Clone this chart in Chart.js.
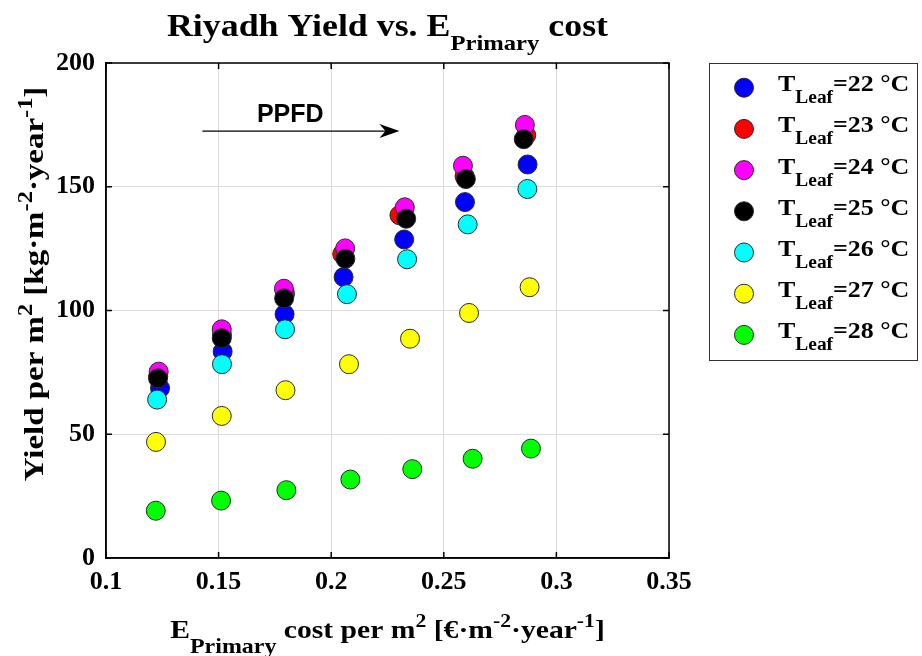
<!DOCTYPE html>
<html>
<head>
<meta charset="utf-8">
<title>Riyadh Yield vs. E Primary cost</title>
<script src="https://cdn.jsdelivr.net/npm/chart.js@4/dist/chart.umd.min.js"></script>
<style>
  html, body { margin: 0; padding: 0; background: #ffffff; }
  #wrap { width: 922px; height: 656px; }
</style>
</head>
<body>
<div id="wrap"><canvas id="chart" width="922" height="656"></canvas></div>
<script>
// Leaf temperatures (°C) and their marker colours
const leafTemps = [22, 23, 24, 25, 26, 27, 28];
const leafColors = ['#0000ff', '#ff0000', '#ff00ff', '#000000', '#00ffff', '#ffff00', '#00ff00'];

// Primary energy cost per m² (€·m⁻²·year⁻¹), one array per leaf temperature
const cost22 = [0.1240, 0.1518, 0.1793, 0.2055, 0.2324, 0.2594, 0.2872];
const cost23 = [0.1232, 0.1515, 0.1795, 0.2049, 0.2303, 0.2592, 0.2866];
const cost24 = [0.1234, 0.1514, 0.1790, 0.2062, 0.2327, 0.2585, 0.2860];
const cost25 = [0.1231, 0.1514, 0.1791, 0.2063, 0.2333, 0.2598, 0.2855];
const cost26 = [0.1227, 0.1515, 0.1795, 0.2070, 0.2337, 0.2606, 0.2871];
const cost27 = [0.1222, 0.1514, 0.1797, 0.2079, 0.2350, 0.2612, 0.2881];
const cost28 = [0.1221, 0.1511, 0.1801, 0.2085, 0.2360, 0.2628, 0.2887];

// Yield per m² (kg·m⁻²·year⁻¹), one array per leaf temperature
const yield22 = [68.6, 83.4, 98.5, 113.5, 128.7, 143.8, 159.0];
const yield23 = [73.4, 90.0, 106.8, 122.8, 138.5, 154.3, 170.8];
const yield24 = [75.3, 92.4, 108.8, 125.1, 141.7, 158.5, 175.0];
const yield25 = [72.6, 88.8, 104.9, 120.9, 137.1, 153.1, 169.2];
const yield26 = [64.0, 78.3, 92.4, 106.6, 120.7, 134.8, 149.1];
const yield27 = [46.9, 57.4, 67.8, 78.3, 88.6, 99.0, 109.4];
const yield28 = [19.1, 23.2, 27.4, 31.7, 35.9, 40.1, 44.2];

// Axis ticks
const xTickValues = [0.1, 0.15, 0.2, 0.25, 0.3, 0.35];
const xTickLabels = ['0.1', '0.15', '0.2', '0.25', '0.3', '0.35'];
const yTickValues = [0, 50, 100, 150, 200];
const yTickLabels = ['0', '50', '100', '150', '200'];

// PPFD arrow (data coordinates)
const ppfdArrowFrom = [0.1428, 172.5];
const ppfdArrowTo = [0.2303, 172.5];
const ppfdLabelAt = [0.1818, 176.0];

const costSeries = [cost22, cost23, cost24, cost25, cost26, cost27, cost28];
const yieldSeries = [yield22, yield23, yield24, yield25, yield26, yield27, yield28];

const SERIF = '"Liberation Serif", "Times New Roman", serif';
const SANS = '"Liberation Sans", Arial, sans-serif';

const datasets = leafTemps.map((t, i) => ({
  label: 'T_Leaf=' + t + ' °C',
  data: costSeries[i].map((c, k) => ({ x: c, y: yieldSeries[i][k] })),
  backgroundColor: leafColors[i],
  borderColor: '#2a2a2a',
  pointRadius: 9.5,
  pointHoverRadius: 9.5,
  pointBorderWidth: 1,
  showLine: false,
  order: -i   // later temperatures are painted on top
}));

// Draws a run of text pieces (normal / sub / superscript) on one baseline
function drawRich(ctx, segs, x, y, align, stretch) {
  const widths = segs.map(s => {
    ctx.font = 'bold ' + s.size + 'px ' + (s.family || SERIF);
    return ctx.measureText(s.t).width;
  });
  const total = widths.reduce((a, b) => a + b, 0) * stretch;
  const startX = align === 'center' ? x - total / 2 : x;
  ctx.save();
  ctx.translate(startX, y);
  ctx.scale(stretch, 1);
  ctx.fillStyle = '#000';
  ctx.textBaseline = 'alphabetic';
  ctx.textAlign = 'left';
  let px = 0;
  segs.forEach((s, i) => {
    ctx.font = 'bold ' + s.size + 'px ' + (s.family || SERIF);
    ctx.fillText(s.t, px, s.dy || 0);
    px += widths[i];
  });
  ctx.restore();
}

const decorations = {
  id: 'decorations',
  afterDraw(chart) {
    const ctx = chart.ctx;
    const a = chart.chartArea;
    const xs = chart.scales.x, ys = chart.scales.y;

    // axes box and inward tick marks
    ctx.save();
    ctx.strokeStyle = '#000';
    ctx.lineWidth = 1.5;
    ctx.strokeRect(a.left, a.top, a.right - a.left, a.bottom - a.top);
    ctx.beginPath();
    xTickValues.forEach(v => {
      const px = xs.getPixelForValue(v);
      ctx.moveTo(px, a.bottom); ctx.lineTo(px, a.bottom - 6);
      ctx.moveTo(px, a.top); ctx.lineTo(px, a.top + 6);
    });
    yTickValues.forEach(v => {
      const py = ys.getPixelForValue(v);
      ctx.moveTo(a.left, py); ctx.lineTo(a.left + 6, py);
      ctx.moveTo(a.right, py); ctx.lineTo(a.right - 6, py);
    });
    ctx.stroke();
    ctx.restore();

    // title
    drawRich(ctx, [
      { t: 'Riyadh Yield vs. E', size: 32 },
      { t: 'Primary', size: 22, dy: 14 },
      { t: ' cost', size: 32 }
    ], (a.left + a.right) / 2, 36, 'center', 1.12);

    // x axis title
    drawRich(ctx, [
      { t: 'E', size: 26 },
      { t: 'Primary', size: 21, dy: 15 },
      { t: ' cost per m', size: 26 },
      { t: '2', size: 19, dy: -11 },
      { t: ' [€·m', size: 26 },
      { t: '-2', size: 19, dy: -11 },
      { t: '·year', size: 26 },
      { t: '-1', size: 19, dy: -11 },
      { t: ']', size: 26 }
    ], (a.left + a.right) / 2, 638, 'center', 1.14);

    // y axis title
    ctx.save();
    ctx.translate(43, 284);
    ctx.rotate(-Math.PI / 2);
    drawRich(ctx, [
      { t: 'Yield per m', size: 27 },
      { t: '2', size: 20, dy: -11 },
      { t: ' [kg·m', size: 27 },
      { t: '-2', size: 20, dy: -11 },
      { t: '·year', size: 27 },
      { t: '-1', size: 20, dy: -11 },
      { t: ']', size: 27 }
    ], 0, 0, 'center', 1.22);
    ctx.restore();

    // PPFD arrow
    const x0 = xs.getPixelForValue(ppfdArrowFrom[0]);
    const y0 = ys.getPixelForValue(ppfdArrowFrom[1]);
    const x1 = xs.getPixelForValue(ppfdArrowTo[0]);
    const y1 = ys.getPixelForValue(ppfdArrowTo[1]);
    ctx.save();
    ctx.strokeStyle = '#000';
    ctx.fillStyle = '#000';
    ctx.lineWidth = 1.2;
    ctx.beginPath();
    ctx.moveTo(x0, y0); ctx.lineTo(x1 - 12, y1);
    ctx.stroke();
    ctx.beginPath();
    ctx.moveTo(x1, y1);
    ctx.lineTo(x1 - 20, y1 - 7);
    ctx.lineTo(x1 - 14, y1);
    ctx.lineTo(x1 - 20, y1 + 7);
    ctx.closePath();
    ctx.fill();
    ctx.restore();

    ctx.save();
    ctx.font = 'bold 25px ' + SANS;
    ctx.fillStyle = '#000';
    ctx.textAlign = 'center';
    ctx.textBaseline = 'alphabetic';
    ctx.fillText('PPFD', xs.getPixelForValue(ppfdLabelAt[0]), ys.getPixelForValue(ppfdLabelAt[1]));
    ctx.restore();

    // legend
    const boxL = 709, boxT = 63, boxR = 917, boxB = 360;
    ctx.save();
    ctx.fillStyle = '#fff';
    ctx.fillRect(boxL, boxT, boxR - boxL, boxB - boxT);
    ctx.strokeStyle = '#333';
    ctx.lineWidth = 1;
    ctx.strokeRect(boxL + 0.5, boxT + 0.5, boxR - boxL, boxB - boxT);
    ctx.restore();
    leafTemps.forEach((t, i) => {
      const cy = 87.7 + i * 41.2;
      ctx.save();
      ctx.beginPath();
      ctx.arc(744, cy, 9.5, 0, Math.PI * 2);
      ctx.fillStyle = leafColors[i];
      ctx.fill();
      ctx.strokeStyle = '#2a2a2a';
      ctx.lineWidth = 1;
      ctx.stroke();
      ctx.restore();
      drawRich(ctx, [
        { t: 'T', size: 24 },
        { t: 'Leaf', size: 18, dy: 12 },
        { t: '=' + t + ' °C', size: 24 }
      ], 778, cy + 3.5, 'left', 1.08);
    });
  }
};

new Chart(document.getElementById('chart'), {
  type: 'scatter',
  data: { datasets },
  options: {
    responsive: false,
    animation: false,
    devicePixelRatio: 1,
    layout: { padding: { left: 0, right: 253, top: 63, bottom: 0 } },
    plugins: {
      legend: { display: false },
      title: { display: false },
      tooltip: { enabled: false }
    },
    scales: {
      x: {
        type: 'linear',
        min: 0.1,
        max: 0.35,
        afterBuildTicks(scale) { scale.ticks = xTickValues.map(v => ({ value: v })); },
        afterFit(scale) { scale.height = 98; },
        ticks: {
          callback: (v, i) => xTickLabels[i],
          font: { family: SERIF, weight: 'bold', size: 26 },
          color: '#000',
          padding: 9,
          maxRotation: 0,
          autoSkip: false
        },
        grid: { color: '#dcdcdc', lineWidth: 1, drawTicks: false },
        border: { display: true, color: '#000', width: 1.5 }
      },
      y: {
        type: 'linear',
        min: 0,
        max: 200,
        afterBuildTicks(scale) { scale.ticks = yTickValues.map(v => ({ value: v })); },
        afterFit(scale) { scale.width = 106; },
        ticks: {
          callback: (v, i) => yTickLabels[i],
          font: { family: SERIF, weight: 'bold', size: 26 },
          color: '#000',
          padding: 11,
          autoSkip: false
        },
        grid: { color: '#dcdcdc', lineWidth: 1, drawTicks: false },
        border: { display: true, color: '#000', width: 1.5 }
      }
    }
  },
  plugins: [decorations]
});
</script>
</body>
</html>
